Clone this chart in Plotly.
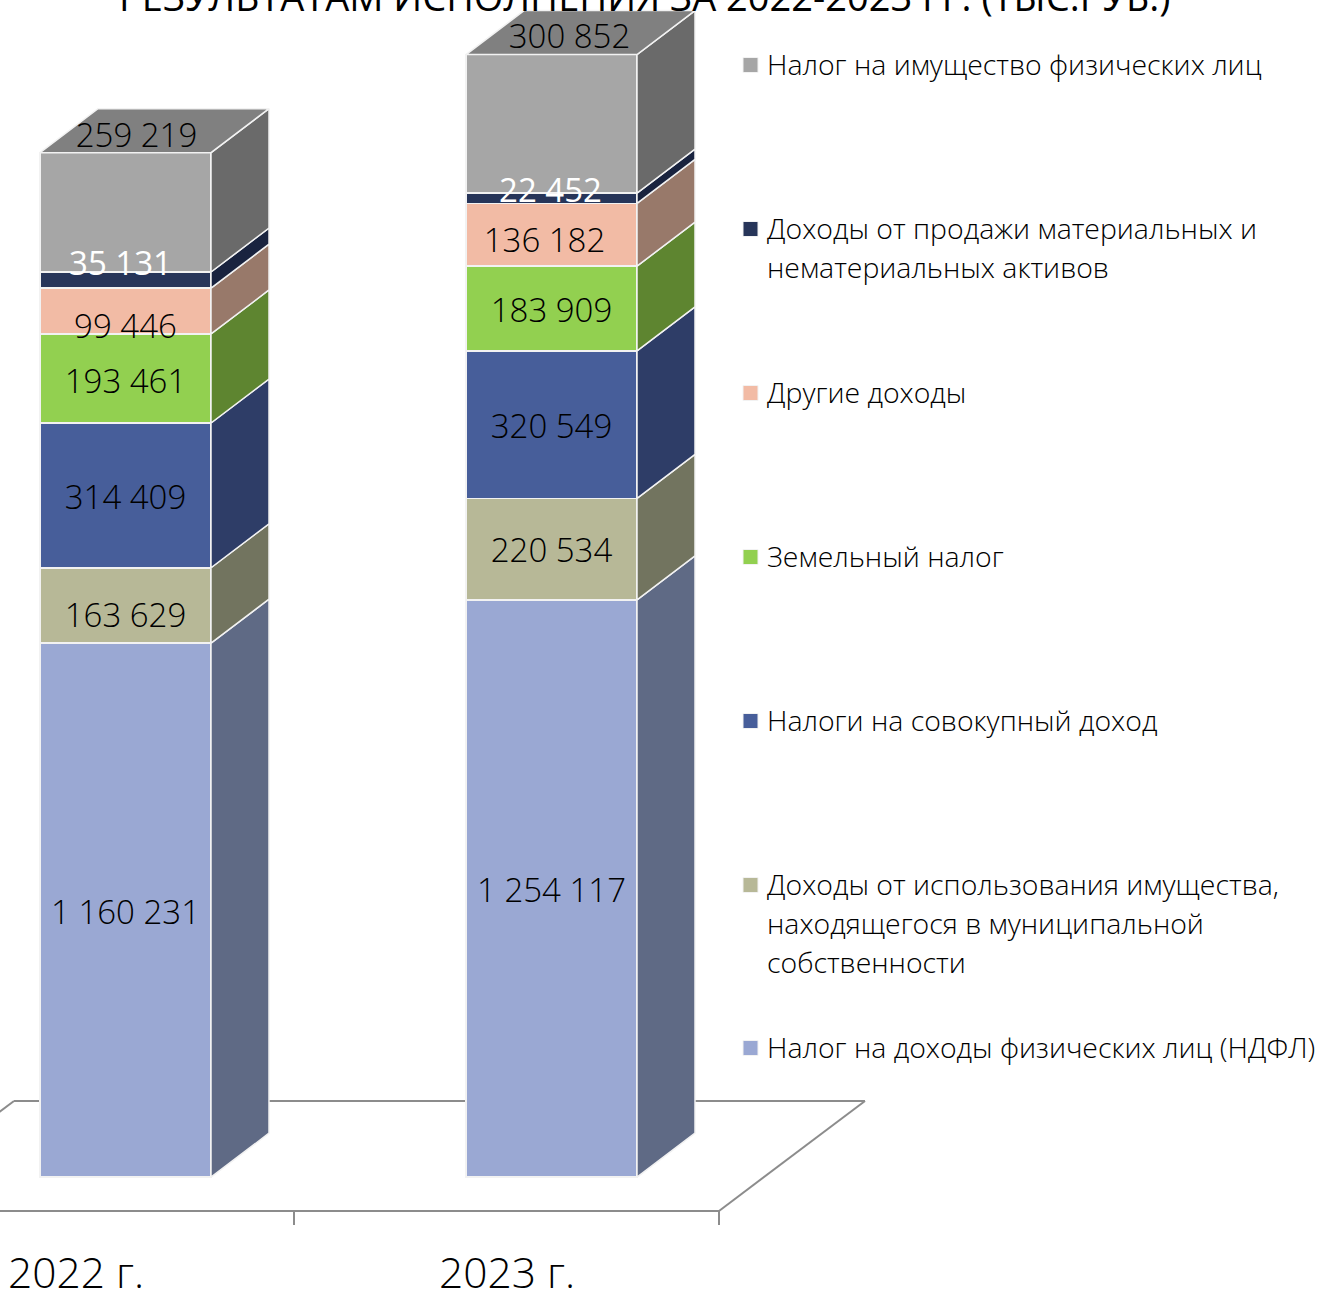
import plotly.graph_objects as go

years = ["2022 г.", "2023 г."]
series_names = [
    "Налог на доходы физических лиц (НДФЛ)",
    "Доходы от использования имущества,<br>находящегося в муниципальной<br>собственности",
    "Налоги на совокупный доход",
    "Земельный налог",
    "Другие доходы",
    "Доходы от продажи материальных и<br>нематериальных активов",
    "Налог на имущество физических лиц",
]
ndfl = [1160231, 1254117]
property_income = [163629, 220534]
aggregate_income = [314409, 320549]
land_tax = [193461, 183909]
other_income = [99446, 136182]
asset_sales = [35131, 22452]
property_tax = [259219, 300852]
series_values = [ndfl, property_income, aggregate_income, land_tax, other_income, asset_sales, property_tax]

front_colors = ["#9AA8D3", "#B7B897", "#475E9A", "#92D050", "#F2BBA5", "#273559", "#A6A6A6"]
side_colors = ["#5F6A85", "#72745F", "#2E3D67", "#5E8530", "#98796A", "#19233F", "#6A6A6A"]
top_color = "#808080"
edge = "#F2F2F2"
label_colors = ["#000000"] * 5 + ["#FFFFFF", "#000000"]
label_weights = [300] * 5 + [400, 300]
FONT = "Open Sans"
WEIGHT = 300

W, H = 1324, 1291
PX_X, X0 = 426.0, 125.5      # px per category, px of category 0
PX_Y, Y0 = 0.00046035, 1177.2  # px per value, px of zero
BAR_W = 171 / PX_X
DX, DY = 58 / PX_X, 44 / PX_Y   # depth offset
xd = lambda px: (px - X0) / PX_X
yd = lambda py: (Y0 - py) / PX_Y

fig = go.Figure()
for name, vals, c in zip(series_names, series_values, front_colors):
    fig.add_bar(x=[0, 1], y=vals, name=name.replace("<br>", " "), width=BAR_W, marker=dict(color=c, line=dict(color=edge, width=1.5)), showlegend=False)

# side and top faces computed from the stacked values
for i in range(2):
    xr = i + BAR_W / 2
    base = 0
    for vals, c in zip(series_values, side_colors):
        top = base + vals[i]
        fig.add_scatter(x=[xr, xr + DX, xr + DX, xr, xr], y=[base, base + DY, top + DY, top, base], mode="lines", fill="toself", fillcolor=c, line=dict(color=edge, width=1.5), hoverinfo="skip", showlegend=False)
        base = top
    xl = i - BAR_W / 2
    fig.add_scatter(x=[xl, xl + DX, xr + DX, xr, xl], y=[base, base + DY, base + DY, base, base], mode="lines", fill="toself", fillcolor=top_color, line=dict(color=edge, width=1.5), hoverinfo="skip", showlegend=False)

# data labels (px offsets from segment centre)
label_dx = [[0, 0], [0, 0], [0, 0], [0, 0], [0, -7], [-5, -1], [11, 18]]
label_dy = [[6, 5], [13, 5], [5, 5], [6, 5], [19, 9], [-13, -5], [-74, -84]]
lx, ly, lt, lc, lw = [], [], [], [], []
for s, vals in enumerate(series_values):
    for i in range(2):
        below = sum(series_values[k][i] for k in range(s))
        lx.append(i + label_dx[s][i] / PX_X)
        ly.append(below + vals[i] / 2 - label_dy[s][i] / PX_Y)
        lt.append(f"{vals[i]:,}".replace(",", " "))
        lc.append(label_colors[s])
        lw.append(label_weights[s])
fig.add_scatter(x=lx, y=ly, mode="text", text=lt, textposition="middle center", textfont=dict(family=FONT, size=33, weight=lw, color=lc), hoverinfo="skip", showlegend=False)

# legend
legend_y = [1048, 885, 721, 557, 393, 229, 65]
LINE = 39
fig.add_scatter(x=[xd(750.5)] * 7, y=[yd(v) for v in legend_y], mode="markers", marker=dict(symbol="square", size=15, color=front_colors, line=dict(color="#F2F2F2", width=1)), hoverinfo="skip", showlegend=False)
annotations = []
for name, py in zip(series_names, legend_y):
    for k, part in enumerate(name.split("<br>")):
        annotations.append(dict(x=765 / W, y=1 - (py - 1 + k * LINE) / H, xref="paper", yref="paper", xanchor="left", yanchor="middle", align="left", text=part, showarrow=False, font=dict(family=FONT, size=28.4, weight=WEIGHT, color="#000000")))
annotations.append(dict(x=644 / W, y=1 - 24 / H, xref="paper", yref="paper", xanchor="center", yanchor="bottom", text="РЕЗУЛЬТАТАМ ИСПОЛНЕНИЯ ЗА 2022-2023 ГГ. (ТЫС.РУБ.)", showarrow=False, font=dict(family=FONT, size=38, weight=400, color="#000000")))
for yr, px in zip(years, [76, 507]):
    annotations.append(dict(x=xd(px), y=1 - 1271 / H, xref="x", yref="paper", xanchor="center", yanchor="middle", text=yr, showarrow=False, font=dict(family=FONT, size=42.5, weight=WEIGHT, color="#000000")))

# floor and axis, behind bars
GRAY = "#8C8C8C"
shapes = []
def seg(x0, y0, x1, y1):
    shapes.append(dict(type="line", xref="x", yref="y", layer="below", x0=xd(x0), y0=yd(y0), x1=xd(x1), y1=yd(y1), line=dict(color=GRAY, width=2)))
seg(-131, 1211, 719, 1211)
seg(719, 1211, 865, 1101)
seg(865, 1101, 14, 1101)
seg(14, 1101, -132, 1211)
seg(294, 1211, 294, 1225)
seg(719, 1211, 719, 1225)

fig.update_layout(
    width=W, height=H, margin=dict(l=0, r=0, t=0, b=0), barmode="stack",
    paper_bgcolor="white", plot_bgcolor="white", showlegend=False, shapes=shapes, annotations=annotations,
    xaxis=dict(range=[xd(0), xd(W)], visible=False),
    yaxis=dict(range=[yd(H), yd(0)], visible=False),
)
fig.write_html("out.html", post_script="document.body.style.margin='0';", config=dict(displayModeBar=False))
